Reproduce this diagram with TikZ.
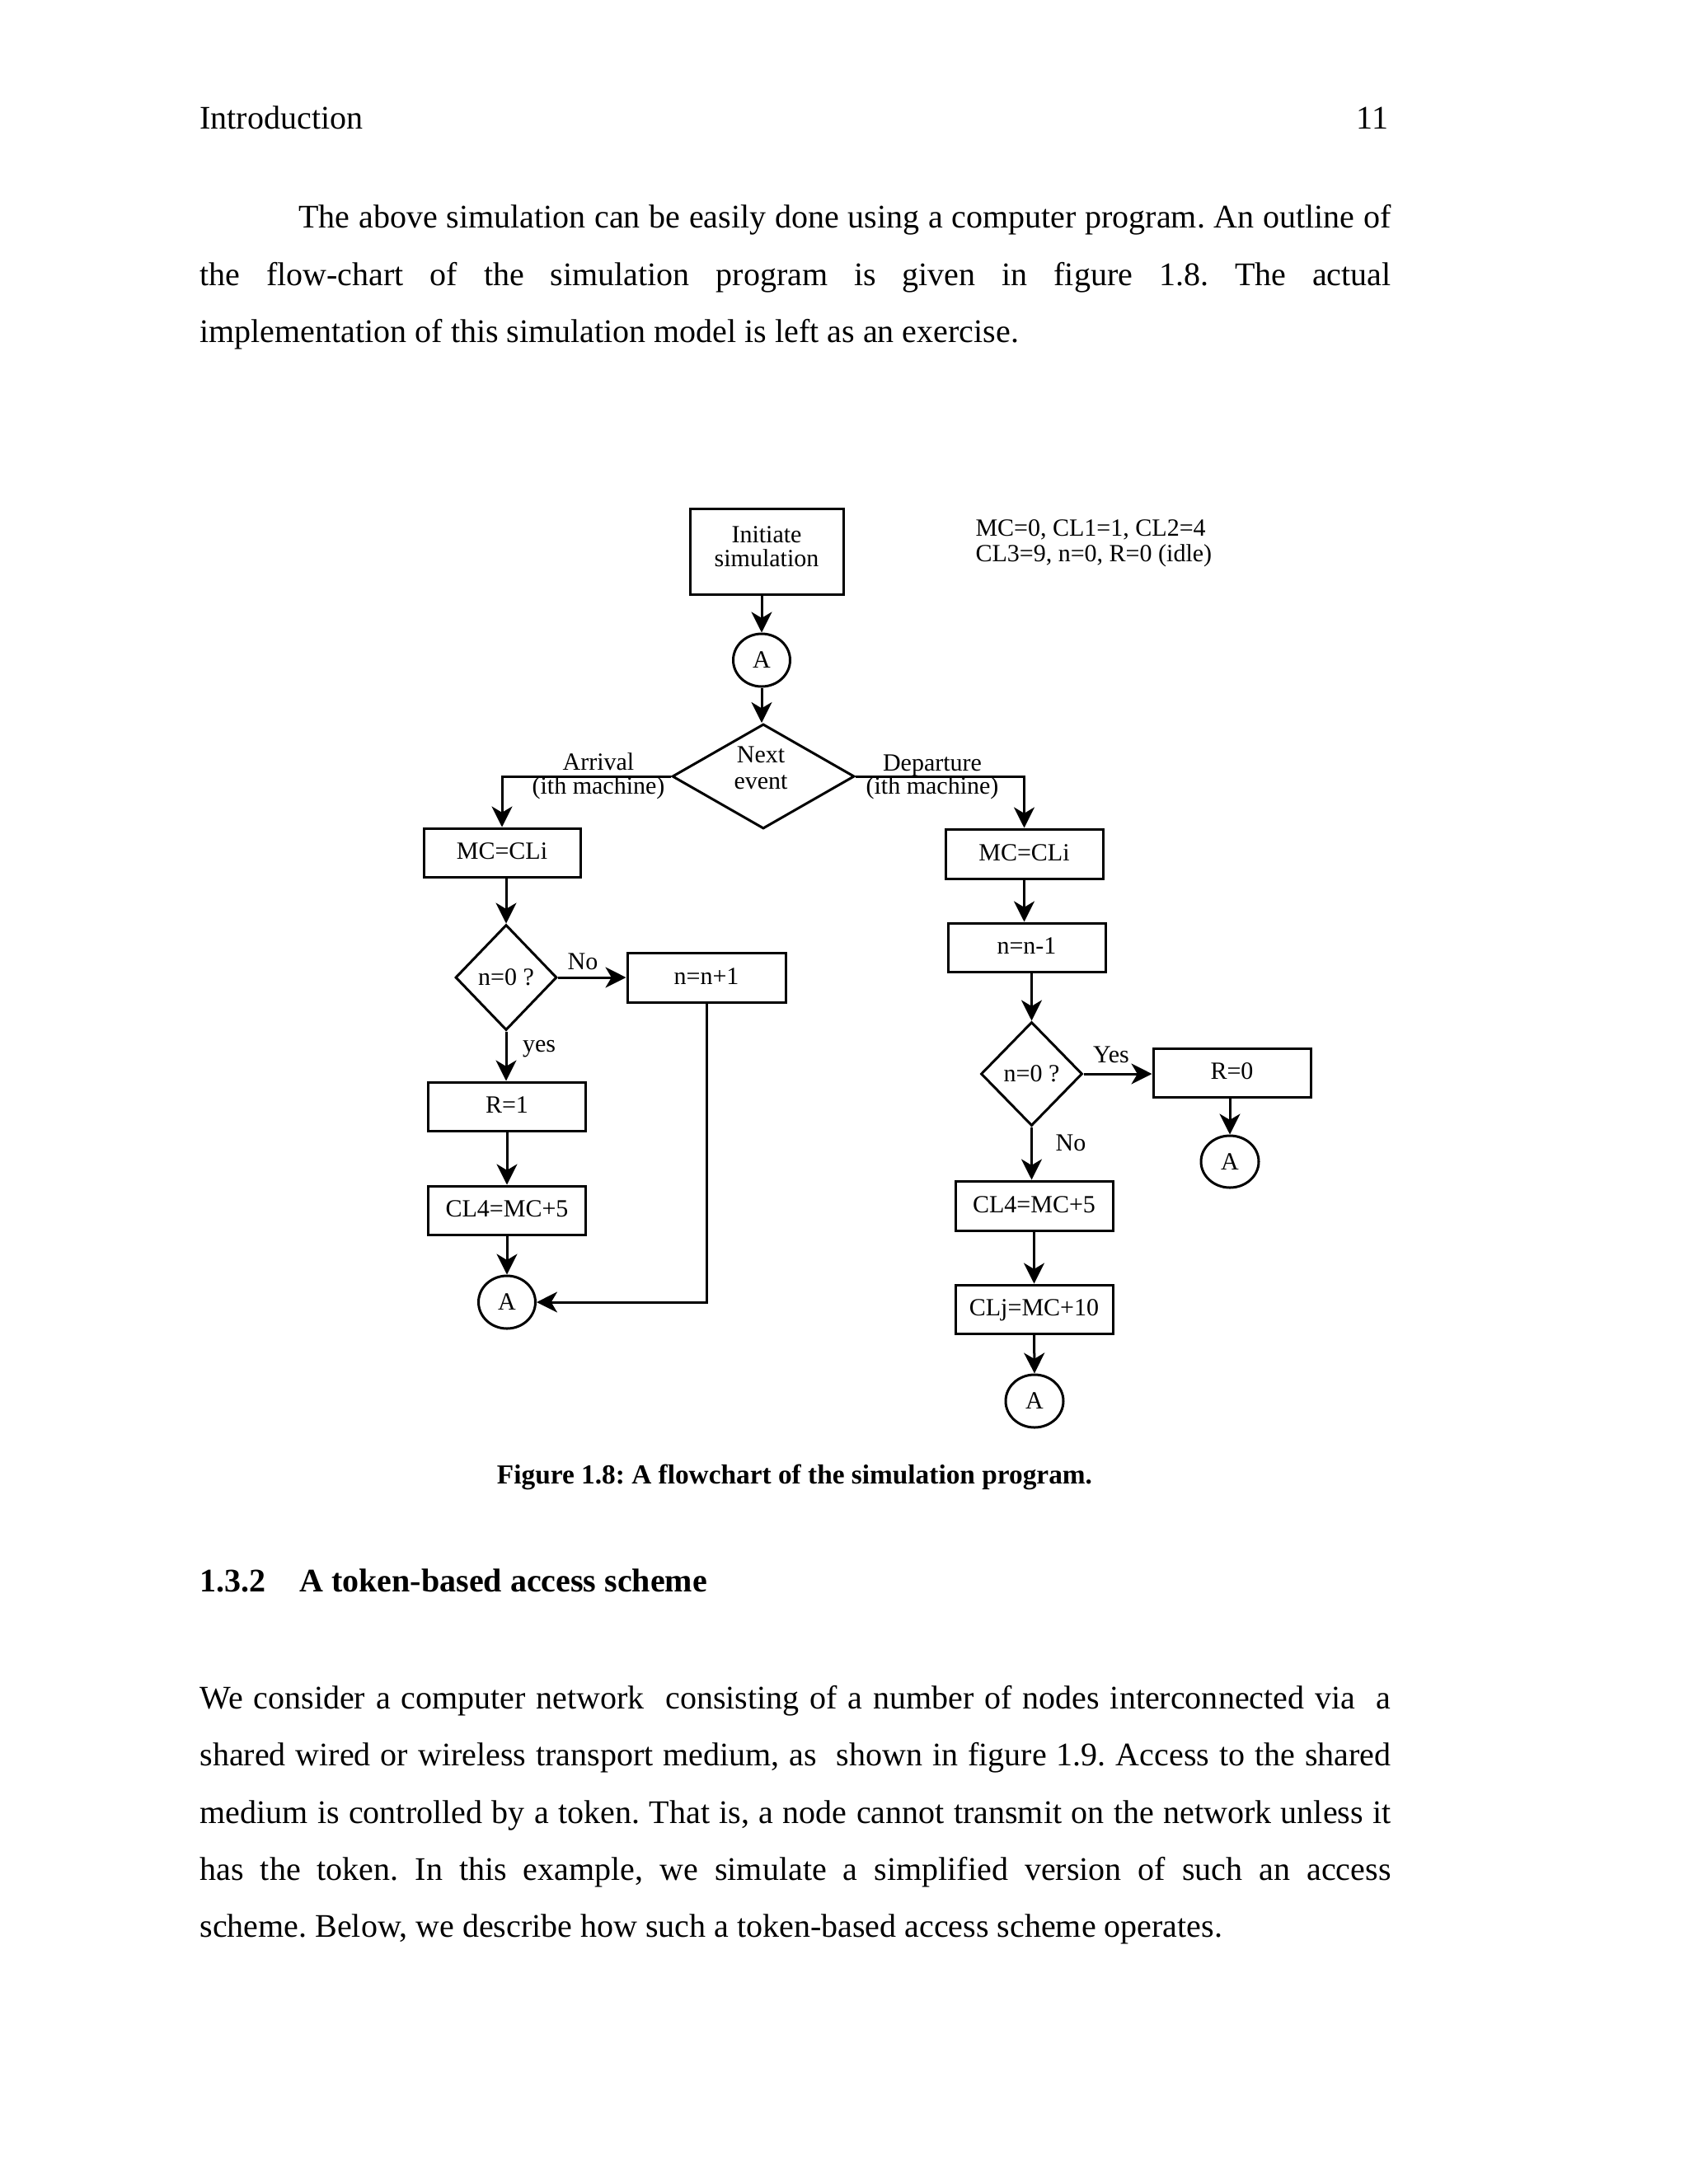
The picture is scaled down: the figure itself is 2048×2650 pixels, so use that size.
\documentclass[tikz,border=0pt]{standalone}
\usepackage{fontspec}
\setmainfont{Liberation Serif}
\usetikzlibrary{shapes.geometric,arrows.meta}
\newcommand\pxu{0.299927pt}
\newcommand\figfont{\fontsize{9}{9.4}\selectfont}
\newcommand\bodyfont{\fontsize{12}{14}\selectfont}
\frenchspacing
\begin{document}
\frenchspacing
\begin{tikzpicture}[x=0.299927pt,y=-0.299927pt,
  line width=0.9pt,
  arr/.style={-{Stealth[length=7.5pt,width=7.5pt,inset=2.2pt]}},
  procbox/.style={draw, rectangle, inner sep=0pt, minimum width=191*\pxu, minimum height=59*\pxu, font=\figfont, text height=6.5pt, text depth=1.5pt},
  decis/.style={draw, diamond, inner sep=0pt, aspect=1, font=\figfont, minimum width=123*\pxu, minimum height=127*\pxu},
  conn/.style={draw, ellipse, inner sep=0pt, minimum width=69*\pxu, minimum height=64*\pxu, font=\figfont},
  lbl/.style={font=\figfont, inner sep=0pt, anchor=base},
  body/.style={font=\bodyfont, inner sep=0pt, anchor=base west},
  bodyb/.style={font=\bodyfont\bfseries, inner sep=0pt, anchor=base west},
]
\useasboundingbox (0,0) rectangle (2048,2650);

% header
\node[body] (hdr) at (241,156) {Introduction};
\node[body, anchor=base east] (pg) at (1686,156) {11};

% paragraph 1
\node[body] (p1a) at (361,276) {\hbox to 397.4pt{The above simulation can be easily done using a computer program. An outline of}};
\node[body] (p1b) at (241,346) {\hbox to 433.4pt{the flow-chart of the simulation program is given in figure 1.8. The actual}};
\node[body] (p1c) at (241,415) {implementation of this simulation model is left as an exercise.};

% flowchart nodes
\node[draw, rectangle, inner sep=0pt, minimum width=186*\pxu, minimum height=104*\pxu] (init) at (930,669) {};
\node[lbl] (initT1) at (930,658) {Initiate};
\node[lbl] (initT2) at (930,687) {simulation};
\node[lbl, anchor=base west] (note1) at (1182,650) {MC=0, CL1=1, CL2=4};
\node[lbl, anchor=base west] (note2) at (1182,681) {CL3=9, n=0, R=0 (idle)};
\node[conn] (aTop) at (924,801) {A};
\node[decis, minimum width=221*\pxu, minimum height=127*\pxu, aspect=1.74] (next) at (926,942) {};
\node[lbl] (nextT1) at (923,925) {Next};
\node[lbl] (nextT2) at (923,957) {event};

\node[lbl] (arrA) at (726,934) {Arrival};
\node[lbl] (arrB) at (726,963) {(ith machine)};
\node[lbl] (depA) at (1131,935) {Departure};
\node[lbl] (depB) at (1131,963) {(ith machine)};

% left branch
\node[procbox, minimum width=190*\pxu] (mcL) at (609,1034.5) {MC=CLi};
\node[decis, minimum height=128*\pxu] (dL) at (614,1186) {n=0 ?};
\node[procbox, minimum width=192*\pxu, minimum height=60*\pxu] (inc) at (857,1186) {n=n+1};
\node[procbox] (r1) at (615,1342.5) {R=1};
\node[procbox] (cl4L) at (615,1468.5) {CL4=MC+5};
\node[conn] (aL) at (615,1580) {A};
\node[lbl] (noL) at (707,1176) {No};
\node[lbl] (yesL) at (654,1276) {yes};

% right branch
\node[procbox, minimum height=60*\pxu] (mcR) at (1242.5,1036) {MC=CLi};
\node[procbox] (dec) at (1245.5,1149.5) {n=n-1};
\node[decis, minimum height=126*\pxu] (dR) at (1251.5,1303) {n=0 ?};
\node[procbox] (r0) at (1494.5,1301.5) {R=0};
\node[conn, minimum width=70*\pxu, minimum height=63*\pxu] (aR) at (1492,1409.5) {A};
\node[procbox, minimum height=60*\pxu] (cl4R) at (1254.5,1463) {CL4=MC+5};
\node[procbox] (clj) at (1254.5,1588.5) {CLj=MC+10};
\node[conn, minimum width=70*\pxu] (aB) at (1255,1700) {A};
\node[lbl] (yesR) at (1348,1289) {Yes};
\node[lbl] (noR) at (1299,1396) {No};

% connectors
\draw[arr] (aTop.north |- init.south) -- (aTop.north);
\draw[arr] (aTop.south) -- (aTop.south |- next.north);
\draw[arr] (next.west) -| (mcL.north);
\draw[arr] (next.east) -| (mcR.north);
\draw[arr] (dL.north |- mcL.south) -- (dL.north);
\draw[arr] (dL.east) -- (inc.west);
\draw[arr] (dL.south) -- (dL.south |- r1.north);
\draw[arr] (r1.south) -- (cl4L.north);
\draw[arr] (cl4L.south) -- (aL.north);
\draw[arr] (inc.south) |- (aL.east);
\draw[arr] (mcR.south) -- (mcR.south |- dec.north);
\draw[arr] (dR.north |- dec.south) -- (dR.north);
\draw[arr] (dR.east) -- (dR.east -| r0.west);
\draw[arr] (aR.north |- r0.south) -- (aR.north);
\draw[arr] (dR.south) -- (dR.south |- cl4R.north);
\draw[arr] (cl4R.south) -- (clj.north);
\draw[arr] (clj.south) -- (aB.north);

% caption
\node[font=\fontsize{10}{12}\selectfont\bfseries, inner sep=0pt, anchor=base] (cap) at (964,1800) {Figure 1.8: A flowchart of the simulation program.};

% section heading
\node[bodyb] (secn) at (241,1931) {1.3.2};
\node[bodyb] (sect) at (362,1931) {A token-based access scheme};

% paragraph 2
\node[body] (p2a) at (241,2073) {\hbox to 433.4pt{We consider a computer network ~consisting of a number of nodes interconnected via ~a}};
\node[body] (p2b) at (241,2142) {\hbox to 433.4pt{shared wired or wireless transport medium, as ~shown in figure 1.9. Access to the shared}};
\node[body] (p2c) at (241,2212) {\hbox to 433.4pt{medium is controlled by a token. That is, a node cannot transmit on the network unless it}};
\node[body] (p2d) at (241,2281) {\hbox to 433.4pt{has the token. In this example, we simulate a simplified version of such an access}};
\node[body] (p2e) at (241,2350) {scheme. Below, we describe how such a token-based access scheme operates.};
\end{tikzpicture}
\end{document}
